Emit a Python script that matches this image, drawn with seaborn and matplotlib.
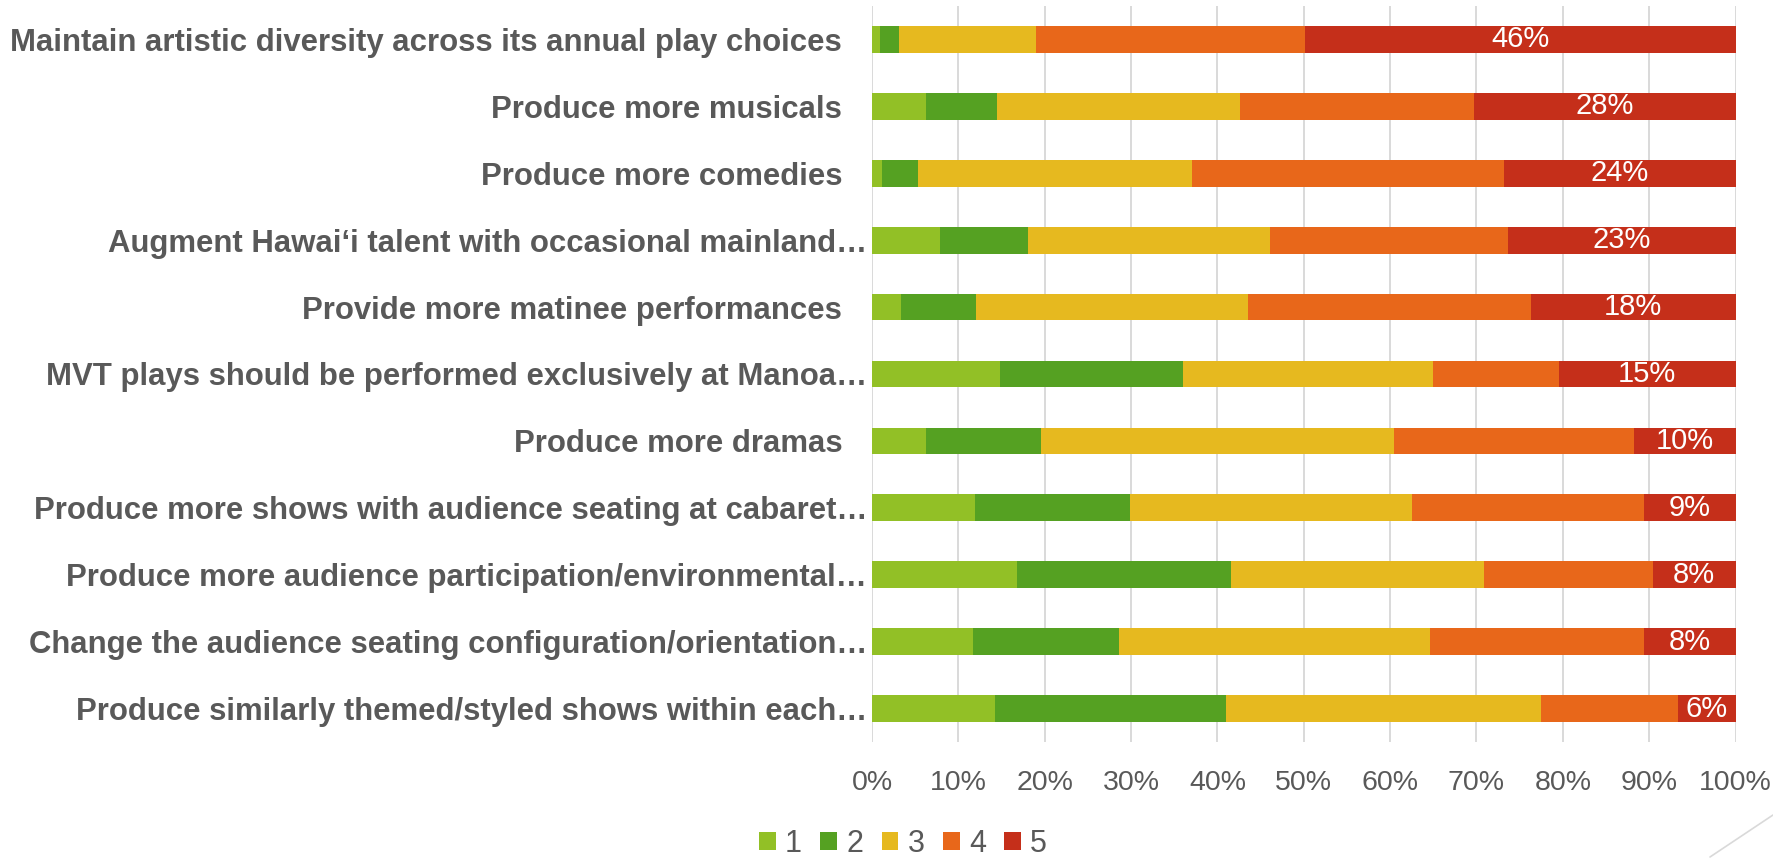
import numpy as np
import pandas as pd
import seaborn as sns
import matplotlib.pyplot as plt
import matplotlib.font_manager as fm
from matplotlib.patches import Patch
from matplotlib.lines import Line2D
from matplotlib.transforms import ScaledTranslation

# Survey statements, top to bottom
statements = [
    "Maintain artistic diversity across its annual play choices",
    "Produce more musicals",
    "Produce more comedies",
    "Augment Hawai\u2018i talent with occasional mainland\u2026",
    "Provide more matinee performances",
    "MVT plays should be performed exclusively at Manoa\u2026",
    "Produce more dramas",
    "Produce more shows with audience seating at cabaret\u2026",
    "Produce more audience participation/environmental\u2026",
    "Change the audience seating configuration/orientation\u2026",
    "Produce similarly themed/styled shows within each\u2026",
]

# Share of responses per rating (percent)
rating1 = [0.9, 6.3, 1.2, 7.9, 3.4, 14.8, 6.3, 11.9, 16.8, 11.7, 14.2]
rating2 = [2.2, 8.2, 4.1, 10.2, 8.6, 21.2, 13.2, 17.9, 24.8, 16.9, 26.8]
rating3 = [15.9, 28.2, 31.8, 28.0, 31.5, 28.9, 40.9, 32.7, 29.3, 36.0, 36.5]
rating4 = [31.1, 27.1, 36.1, 27.6, 32.8, 14.6, 27.8, 26.8, 19.5, 24.7, 15.8]
rating5 = [49.9, 30.3, 26.8, 26.3, 23.7, 20.4, 11.7, 10.6, 9.6, 10.6, 6.7]

# labels printed on the "5" segment
top_labels = ["46%", "28%", "24%", "23%", "18%", "15%", "10%", "9%", "8%", "8%", "6%"]

ratings = ["1", "2", "3", "4", "5"]
colors = ["#92C026", "#55A122", "#E6B91F", "#E8671A", "#C52F1A"]

df = pd.DataFrame({"statement": statements, "1": rating1, "2": rating2,
                   "3": rating3, "4": rating4, "5": rating5})
vals = df[ratings]
vals = vals.div(vals.sum(axis=1), axis=0) * 100
cum = vals.cumsum(axis=1)

sns.set_theme(style="white")
names = {f.name for f in fm.fontManager.ttflist}
narrow = "Liberation Sans Narrow" if "Liberation Sans Narrow" in names else "Liberation Sans"
plt.rcParams["font.family"] = ["Liberation Sans", "DejaVu Sans"]

grey = "#595959"
fig = plt.figure(figsize=(17.73, 8.58), dpi=100)
ax = fig.add_axes([872 / 1773, 1 - 742 / 858, (1735.5 - 872) / 1773, (742 - 6) / 858])

# draw cumulative totals from the right so each segment shows its own share
for r, c in reversed(list(zip(ratings, colors))):
    sns.barplot(x=cum[r], y=df["statement"], color=c, orient="h", width=0.4,
                saturation=1, ax=ax, linewidth=0)

# data labels on the last segment
for i, txt in enumerate(top_labels):
    mid = (cum["4"].iloc[i] + 100) / 2
    ax.text(mid, i, txt, ha="center", va="center", color="white", fontsize=21)

ax.set_xlim(0, 100)
ax.set_ylim(10.5, -0.5)
ax.set_xticks(np.arange(0, 101, 10))
ax.set_xticklabels([f"{t}%" for t in range(0, 101, 10)])
ax.set_xlabel("")
ax.set_ylabel("")
ax.grid(axis="x", color="#D9D9D9", linewidth=1.4)
ax.set_axisbelow(True)
for s in ax.spines.values():
    s.set_visible(False)
ax.tick_params(axis="x", length=0, pad=20, labelsize=20.5, labelcolor=grey)
ax.tick_params(axis="y", length=0, pad=3.5, labelcolor=grey)
for lab in ax.get_yticklabels():
    lab.set_fontfamily([narrow, "DejaVu Sans"])
    lab.set_fontweight("bold")
    lab.set_fontsize(22.4)
    if not lab.get_text().endswith("\u2026"):
        lab.set_transform(lab.get_transform() + ScaledTranslation(-25 / 100, 0, fig.dpi_scale_trans))

handles = [Patch(facecolor=c, edgecolor="none") for c in colors]
fig.legend(handles, ratings, loc="center", bbox_to_anchor=(903 / 1773, 1 - 844 / 858),
           ncol=5, frameon=False, fontsize=22, labelcolor=grey,
           handlelength=0.55, handleheight=0.55, handletextpad=0.3, columnspacing=0.6,
           borderpad=0)

# thin decorative line in the lower right corner
fig.add_artist(Line2D([1710 / 1773, 1.0], [1 / 858, 43 / 858], color="#D9D9D9",
                      linewidth=1.2, transform=fig.transFigure))

fig.savefig("out.png", dpi=100)
